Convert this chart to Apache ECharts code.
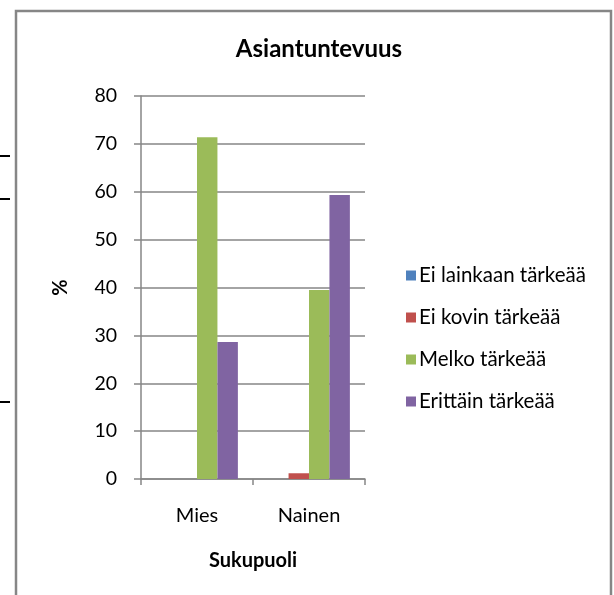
<!DOCTYPE html>
<html>
<head>
<meta charset="utf-8">
<script src="https://cdn.jsdelivr.net/npm/echarts@6/dist/echarts.min.js"></script>
<style>
  html, body { margin: 0; padding: 0; background: #ffffff; }
  #chart { width: 614px; height: 595px; }
</style>
</head>
<body>
<div id="chart"></div>
<script>
// Survey answers by gender, share of respondents (%)
const categories = ['Mies', 'Nainen'];
const seriesNames = ['Ei lainkaan tärkeää', 'Ei kovin tärkeää', 'Melko tärkeää', 'Erittäin tärkeää'];
const eiLainkaan = [0, 0];
const eiKovin = [0, 1.2];
const melko = [71.4, 39.5];
const erittain = [28.6, 59.3];
const yTicks = [0, 10, 20, 30, 40, 50, 60, 70, 80];

const colors = ['#4F81BD', '#C0504D', '#9BBB59', '#8064A2'];
const values = [eiLainkaan, eiKovin, melko, erittain];
const FONT = 'Lato';
const axisGray = '#868686';

const chart = echarts.init(document.getElementById('chart'), null, { renderer: 'canvas' });

const option = {
  backgroundColor: '#ffffff',
  animation: false,
  textStyle: { fontFamily: FONT },
  title: {
    text: 'Asiantuntevuus',
    left: 314,
    top: 32,
    textAlign: 'center',
    textStyle: { fontFamily: FONT, fontWeight: 'bold', fontSize: 24, color: '#000' }
  },
  legend: {
    orient: 'vertical',
    left: 401,
    top: 260,
    itemWidth: 10,
    itemHeight: 10,
    itemGap: 21,
    icon: 'rect',
    textStyle: { fontFamily: FONT, fontSize: 20.5, color: '#000', padding: [0, 0, 0, -2] },
    data: seriesNames
  },
  grid: { left: 141, right: 249, top: 96, bottom: 116, containLabel: false },
  xAxis: {
    type: 'category',
    data: categories,
    name: 'Sukupuoli',
    nameLocation: 'middle',
    nameGap: 72,
    nameTextStyle: { fontFamily: FONT, fontWeight: 'bold', fontSize: 20, color: '#000' },
    axisLine: { lineStyle: { color: axisGray, width: 1.5 } },
    axisTick: { show: true, length: 6, lineStyle: { color: axisGray, width: 1.5 } },
    axisLabel: { fontFamily: FONT, fontSize: 20, color: '#000', margin: 27 }
  },
  yAxis: {
    type: 'value',
    min: yTicks[0],
    max: yTicks[yTicks.length - 1],
    interval: yTicks[1] - yTicks[0],
    name: '%',
    nameLocation: 'middle',
    nameRotate: 90,
    nameGap: 70,
    nameTextStyle: { fontFamily: FONT, fontWeight: 'bold', fontSize: 20, color: '#000' },
    axisLine: { show: true, lineStyle: { color: axisGray, width: 1.5 } },
    axisTick: { show: true, length: 7, lineStyle: { color: axisGray, width: 1.5 } },
    splitLine: { show: true, lineStyle: { color: axisGray, width: 1.5 } },
    axisLabel: { fontFamily: FONT, fontSize: 19.5, color: '#000', margin: 24 }
  },
  series: seriesNames.map((name, i) => ({
    name: name,
    type: 'bar',
    data: values[i],
    itemStyle: { color: colors[i] },
    barGap: '0%',
    barCategoryGap: '27%'
  })),
  graphic: [
    // outer chart frame
    {
      type: 'rect',
      shape: { x: 16, y: 11, width: 595, height: 600 },
      style: { fill: 'none', stroke: axisGray, lineWidth: 2.5 },
      silent: true
    },
    // short marks on the left page edge
    { type: 'line', shape: { x1: 0, y1: 156, x2: 10, y2: 156 }, style: { stroke: '#000', lineWidth: 2 }, silent: true },
    { type: 'line', shape: { x1: 0, y1: 199, x2: 10, y2: 199 }, style: { stroke: '#000', lineWidth: 2 }, silent: true },
    { type: 'line', shape: { x1: 0, y1: 402, x2: 10, y2: 402 }, style: { stroke: '#000', lineWidth: 2 }, silent: true }
  ]
};

chart.setOption(option);
</script>
</body>
</html>
